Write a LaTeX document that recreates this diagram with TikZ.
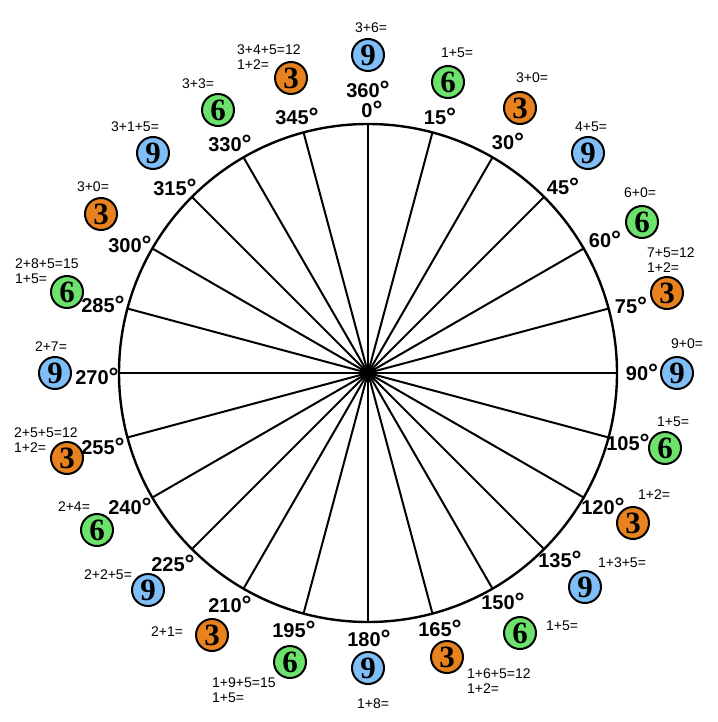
\documentclass[tikz,border=0pt]{standalone}
\usepackage{fontspec}
\setmainfont{Liberation Serif}
\newfontfamily\arialf{Liberation Sans}
\newcommand\mydeg{{\fontsize{25}{25}\selectfont\raisebox{-1pt}{°}}}
\definecolor{bblue}{HTML}{80BEF8}
\definecolor{bgreen}{HTML}{6CE26C}
\definecolor{borange}{HTML}{E8821E}
\begin{document}
\begin{tikzpicture}[x=1pt,y=-1pt,
  badge/.style={circle,draw=black,line width=2pt,minimum size=32pt,inner sep=0pt,
    font=\bfseries\fontsize{31}{31}\selectfont},
  b9/.style={badge,fill=bblue},
  b6/.style={badge,fill=bgreen},
  b3/.style={badge,fill=borange},
  deg/.style={font=\arialf\bfseries\fontsize{20}{22}\selectfont,inner sep=0pt},
  sum/.style={font=\arialf\fontsize{14}{15}\selectfont,inner sep=0pt},
  msum/.style={sum,align=left,anchor=west},
  spoke/.style={line width=2pt},
]
\useasboundingbox (0,0) rectangle (717,722);
\coordinate (c) at (368,373);
\node[circle,draw,line width=2.4pt,minimum size=498pt,inner sep=0pt] (wheel) at (c) {};
\foreach \a in {0,15,...,345} {
  \draw[spoke] (c) -- ++({90-\a}:249pt);
}
% badges
\node[b9] (b0) at (368,55) {9};
\node[b6] (b15) at (448,82) {6};
\node[b3] (b30) at (520,108) {3};
\node[b9] (b45) at (588,153) {9};
\node[b6] (b60) at (642,222) {6};
\node[b3] (b75) at (667,293) {3};
\node[b9] (b90) at (677,373) {9};
\node[b6] (b105) at (665,448) {6};
\node[b3] (b120) at (633,523) {3};
\node[b9] (b135) at (585,587) {9};
\node[b6] (b150) at (520,633) {6};
\node[b3] (b165) at (447,657) {3};
\node[b9] (b180) at (368,668) {9};
\node[b6] (b195) at (290,662) {6};
\node[b3] (b210) at (212,635) {3};
\node[b9] (b225) at (148,590) {9};
\node[b6] (b240) at (97,530) {6};
\node[b3] (b255) at (67,458) {3};
\node[b9] (b270) at (55,373) {9};
\node[b6] (b285) at (67,292) {6};
\node[b3] (b300) at (101,214) {3};
\node[b9] (b315) at (153,153) {9};
\node[b6] (b330) at (218,110) {6};
\node[b3] (b345) at (291,78) {3};
% degree labels
\node[deg] (d360) at (368,90) {360\mydeg};
\node[deg] (d0) at (372,110) {0\mydeg};
\node[deg] (d15) at (440,117) {15\mydeg};
\node[deg] (d30) at (508,142) {30\mydeg};
\node[deg] (d45) at (563,187) {45\mydeg};
\node[deg] (d60) at (605,240) {60\mydeg};
\node[deg] (d75) at (631,306) {75\mydeg};
\node[deg] (d90) at (642,373) {90\mydeg};
\node[deg] (d105) at (628,443) {105\mydeg};
\node[deg] (d120) at (603,507) {120\mydeg};
\node[deg] (d135) at (560,560) {135\mydeg};
\node[deg] (d150) at (503,602) {150\mydeg};
\node[deg] (d165) at (440,629) {165\mydeg};
\node[deg] (d180) at (369,639) {180\mydeg};
\node[deg] (d195) at (294,630) {195\mydeg};
\node[deg] (d210) at (230,605) {210\mydeg};
\node[deg] (d225) at (173,564) {225\mydeg};
\node[deg] (d240) at (130,507) {240\mydeg};
\node[deg] (d255) at (103,447) {255\mydeg};
\node[deg] (d270) at (97,377) {270\mydeg};
\node[deg] (d285) at (103,305) {285\mydeg};
\node[deg] (d300) at (130,245) {300\mydeg};
\node[deg] (d315) at (175,188) {315\mydeg};
\node[deg] (d330) at (230,144) {330\mydeg};
\node[deg] (d345) at (297,117) {345\mydeg};
% sums
\node[sum] (s0) at (371,28) {3+6=};
\node[sum] (s15) at (457,53) {1+5=};
\node[sum] (s30) at (532,78) {3+0=};
\node[sum] (s45) at (591,127) {4+5=};
\node[sum] (s60) at (640,193) {6+0=};
\node[msum] (s75) at (647,260.5) {7+5=12\\1+2=};
\node[sum] (s90) at (687,344) {9+0=};
\node[sum] (s105) at (673,422) {1+5=};
\node[sum] (s120) at (654,495) {1+2=};
\node[sum] (s135) at (622,563) {1+3+5=};
\node[sum] (s150) at (562,626) {1+5=};
\node[msum] (s165) at (467,681) {1+6+5=12\\1+2=};
\node[sum] (s180) at (373,704) {1+8=};
\node[msum] (s195) at (212,690) {1+9+5=15\\1+5=};
\node[sum] (s210) at (167,632) {2+1=};
\node[sum] (s225) at (108,575) {2+2+5=};
\node[sum] (s240) at (74,507) {2+4=};
\node[msum] (s255) at (14,440) {2+5+5=12\\1+2=};
\node[sum] (s270) at (51,347) {2+7=};
\node[msum] (s285) at (15,271) {2+8+5=15\\1+5=};
\node[sum] (s300) at (93,187) {3+0=};
\node[sum] (s315) at (135,127) {3+1+5=};
\node[sum] (s330) at (198,84) {3+3=};
\node[msum] (s345) at (237,57.5) {3+4+5=12\\1+2=};
\end{tikzpicture}
\end{document}
